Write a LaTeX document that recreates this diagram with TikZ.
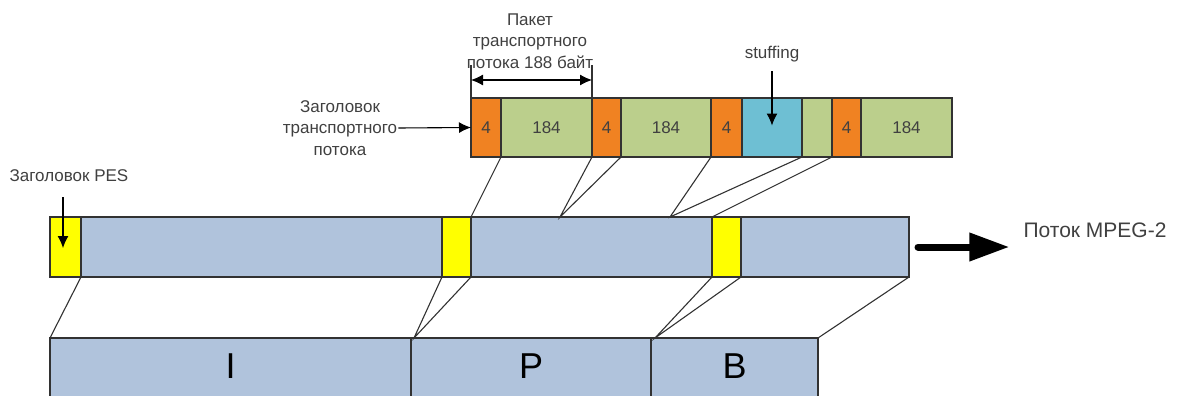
\documentclass[tikz,border=0pt]{standalone}
\usepackage{fontspec}
\setmainfont{Liberation Sans}
\usetikzlibrary{arrows.meta}
\definecolor{tsorange}{RGB}{240,130,34}
\definecolor{tsgreen}{RGB}{187,207,140}
\definecolor{tsstuff}{RGB}{110,191,211}
\definecolor{pesblue}{RGB}{176,195,220}
\definecolor{peshead}{RGB}{255,255,0}
\definecolor{edgec}{RGB}{50,50,50}
\definecolor{labelc}{RGB}{64,64,64}
\begin{document}
\begin{tikzpicture}[x=1pt,y=-1pt,
  seg/.style={draw=edgec, line width=1.2pt, inner sep=0pt, outer sep=0pt,
    anchor=north west, text=labelc, font=\fontsize{17}{20}\selectfont},
  tsseg/.style={seg, minimum height=59pt},
  pesseg/.style={seg, minimum height=60pt},
  frameseg/.style={seg, minimum height=60pt, fill=pesblue, text=black,
    text depth=4pt, font=\fontsize{36}{40}\selectfont},
  lbl/.style={text=labelc, align=center, inner sep=1pt,
    font=\fontsize{17}{21.5}\selectfont},
  conn/.style={draw=edgec, line width=1.1pt},
  tip/.tip={Latex[length=12pt,width=11pt]},
  pointer/.style={draw=black, line width=1.1pt, -tip},
  bigarrow/.style={draw=black, line width=7pt, line cap=round,
    -{Triangle[length=40pt,width=27pt]}}
]
\useasboundingbox (0,0) rectangle (1178,396);
\clip (0,0) rectangle (1178,396);

% transport stream packets
\node[tsseg, fill=tsorange, minimum width=30pt] (o1) at (471,98) {4};
\node[tsseg, fill=tsgreen,  minimum width=91pt] (g1) at (501,98) {184};
\node[tsseg, fill=tsorange, minimum width=29pt] (o2) at (592,98) {4};
\node[tsseg, fill=tsgreen,  minimum width=90pt] (g2) at (621,98) {184};
\node[tsseg, fill=tsorange, minimum width=31pt] (o3) at (711,98) {4};
\node[tsseg, fill=tsstuff,  minimum width=60pt] (st) at (742,98) {};
\node[tsseg, fill=tsgreen,  minimum width=30pt] (g3) at (802,98) {};
\node[tsseg, fill=tsorange, minimum width=29pt] (o4) at (832,98) {4};
\node[tsseg, fill=tsgreen,  minimum width=91pt] (g4) at (861,98) {184};

% PES stream
\node[pesseg, fill=peshead, minimum width=31pt]  (y1) at (50,217) {};
\node[pesseg, fill=pesblue, minimum width=361pt] (m1) at (81,217) {};
\node[pesseg, fill=peshead, minimum width=29pt]  (y2) at (442,217) {};
\node[pesseg, fill=pesblue, minimum width=241pt] (m2) at (471,217) {};
\node[pesseg, fill=peshead, minimum width=29pt]  (y3) at (712,217) {};
\node[pesseg, fill=pesblue, minimum width=168pt] (m3) at (741,217) {};

% frames
\node[frameseg, minimum width=361pt] (fi) at (50,338) {I};
\node[frameseg, minimum width=240pt] (fp) at (411,338) {P};
\node[frameseg, minimum width=167pt] (fb) at (651,338) {B};

% labels
\node[lbl] (pkt) at (530,41) {Пакет\\транспортного\\потока 188 байт};
\node[lbl] (tshdr) at (340,128) {Заголовок\\транспортного\\потока};
\node[lbl] (stuf) at (772,54) {stuffing};
\node[lbl] (peshdr) at (69,176) {Заголовок PES};
\node[lbl, font=\fontsize{21}{25}\selectfont] (mpeg) at (1095,230) {Поток MPEG-2};

% meeting points of the mapping lines
\coordinate (j1) at (560,217);
\coordinate (j2) at (670,217);
\coordinate (j3) at (414,338);
\coordinate (j4) at (655,338);

% pointer ends
\coordinate (pesfrom) at (63,197);
\coordinate (pesto) at (63,248);

% packets mapped onto the PES stream
\draw[conn] (o1.south east) -- (y2.north east);
\draw[conn] (o2.south west) -- (j1) -- (o2.south east);
\draw[conn] (o3.south west) -- (j2) -- (st.south east);
\draw[conn] (g3.south east) -- (y3.north west);

% PES stream mapped onto frames
\draw[conn] (y1.south east) -- (fi.north west);
\draw[conn] (y2.south west) -- (j3) -- (y2.south east);
\draw[conn] (y3.south west) -- (j4) -- (y3.south east);
\draw[conn] (m3.south east) -- (fb.north east);

% packet length dimension
\draw[conn] (o1.north west) -- ([yshift=33pt]o1.north west);
\draw[conn] (g1.north east) -- ([yshift=33pt]g1.north east);
\draw[draw=black, line width=1.1pt, tip-tip]
  ([yshift=18pt]o1.north west) -- ([yshift=18pt]g1.north east);

% pointers
\draw[pointer] (tshdr.east) -- (o1.west);
\draw[pointer] ([yshift=-8pt]stuf.south) -- ([yshift=2pt]st.center);
\draw[pointer] (pesfrom) -- (pesto);

% output arrow
\draw[bigarrow] ([xshift=9pt]m3.east) -- ([xshift=-13pt]mpeg.west |- m3.east);
\end{tikzpicture}
\end{document}
